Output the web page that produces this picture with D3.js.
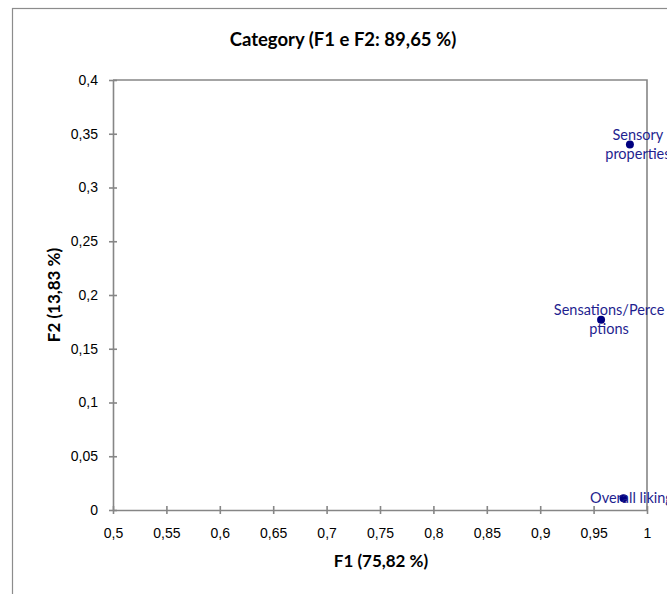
<!DOCTYPE html>
<html>
<head>
<meta charset="utf-8">
<script src="https://cdn.jsdelivr.net/npm/d3@7/dist/d3.min.js"></script>
<style>
  html, body { margin: 0; padding: 0; background: #fff; overflow: hidden; }
  svg { display: block; font-family: Lato, "Open Sans", sans-serif; }
  .axis path, .axis line { stroke: #868686; stroke-width: 1.6; }
  .axis text { fill: #000; font-size: 14px; }
</style>
</head>
<body>
<svg id="chart" width="667" height="594"></svg>
<script>
const title = "Category (F1 e F2: 89,65 %)";
const xTitle = "F1 (75,82 %)";
const yTitle = "F2 (13,83 %)";

// points (F1, F2) and their label lines as shown
const names = ["Sensory properties", "Sensations/Perceptions", "Overall liking"];
const labelLines = [["Sensory", "properties"], ["Sensations/Perce", "ptions"], ["Overall liking"]];
const f1 = [0.984, 0.957, 0.978];
const f2 = [0.340, 0.177, 0.011];

const xTicks = [0.5, 0.55, 0.6, 0.65, 0.7, 0.75, 0.8, 0.85, 0.9, 0.95, 1];
const yTicks = [0, 0.05, 0.1, 0.15, 0.2, 0.25, 0.3, 0.35, 0.4];

const svg = d3.select("#chart");
const margin = { left: 113, right: 647, top: 80, bottom: 510 };
const fmt = (v) => String(v).replace(".", ",");

// outer chart frame, runs off the right / bottom of the picture
svg.append("rect")
  .attr("x", 12.5).attr("y", 8.5)
  .attr("width", 700).attr("height", 640)
  .attr("fill", "#fff")
  .attr("stroke", "#8c8c8c")
  .attr("stroke-width", 1.2);

const x = d3.scaleLinear().domain([0.5, 1]).range([margin.left, margin.right]);
const y = d3.scaleLinear().domain([0, 0.4]).range([margin.bottom, margin.top]);

svg.append("text")
  .attr("x", 343).attr("y", 46)
  .attr("text-anchor", "middle")
  .attr("font-weight", "bold")
  .attr("font-size", 18.5)
  .text(title);

// plot area border (top and right)
svg.append("path")
  .attr("d", `M${margin.left},${margin.top}H${margin.right}V${margin.bottom}`)
  .attr("fill", "none")
  .attr("stroke", "#868686")
  .attr("stroke-width", 1.6);

const xAxis = svg.append("g")
  .attr("class", "axis")
  .attr("transform", `translate(0,${margin.bottom})`)
  .call(d3.axisBottom(x).tickValues(xTicks).tickFormat(fmt).tickSizeInner(4).tickSizeOuter(0).tickPadding(14));
xAxis.selectAll(".tick line").attr("y1", -4);

const yAxis = svg.append("g")
  .attr("class", "axis")
  .attr("transform", `translate(${margin.left},0)`)
  .call(d3.axisLeft(y).tickValues(yTicks).tickFormat(fmt).tickSizeInner(4).tickSizeOuter(0).tickPadding(11));
yAxis.selectAll(".tick line").attr("x1", 4);

svg.append("text")
  .attr("x", 381).attr("y", 567)
  .attr("text-anchor", "middle")
  .attr("font-weight", "bold")
  .attr("font-size", 17)
  .text(xTitle);

svg.append("text")
  .attr("transform", `translate(60,${(margin.top + margin.bottom) / 2}) rotate(-90)`)
  .attr("text-anchor", "middle")
  .attr("font-weight", "bold")
  .attr("font-size", 17)
  .text(yTitle);

const points = names.map((n, i) => ({ name: n, lines: labelLines[i], f1: f1[i], f2: f2[i] }));

svg.append("g").selectAll("circle")
  .data(points)
  .join("circle")
  .attr("cx", (d) => x(d.f1))
  .attr("cy", (d) => y(d.f2))
  .attr("r", 4)
  .attr("fill", "#000080");

const lineH = 19;
svg.append("g").selectAll("text")
  .data(points)
  .join("text")
  .attr("text-anchor", "middle")
  .attr("font-size", 14.5)
  .attr("fill", "#1f1f8f")
  .each(function (d) {
    const t = d3.select(this);
    const cx = x(d.f1) + 8;
    const y0 = y(d.f2) - (d.lines.length - 1) * lineH / 2 + 5;
    d.lines.forEach((line, k) => {
      t.append("tspan").attr("x", cx).attr("y", y0 + k * lineH).text(line);
    });
  });
</script>
</body>
</html>
